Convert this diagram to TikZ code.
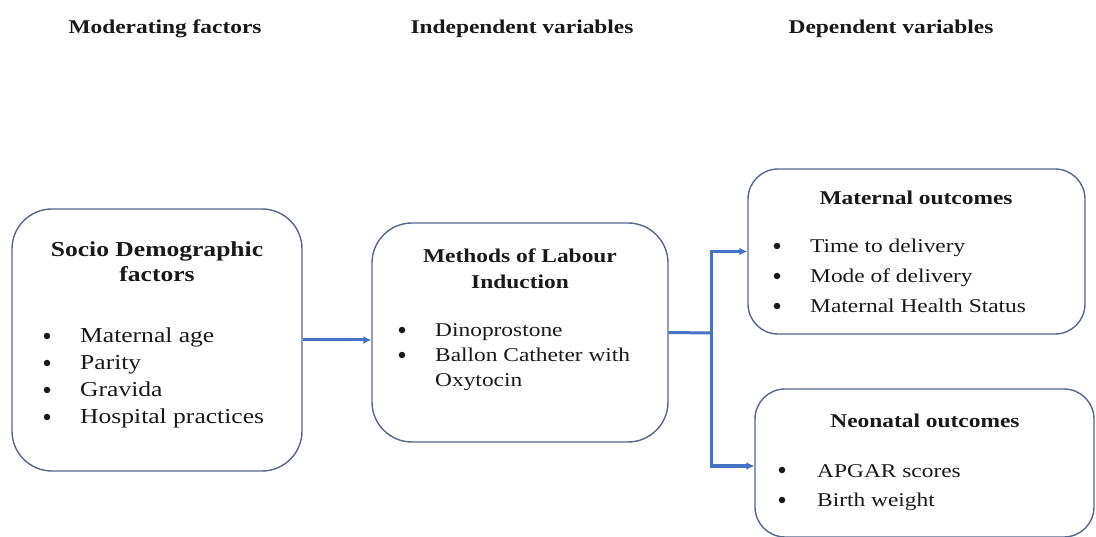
\documentclass[tikz,border=0pt]{standalone}
\usepackage{fontspec}
\setmainfont{Liberation Serif}[FakeStretch=1.2]
\usetikzlibrary{arrows.meta}
\definecolor{boxline}{RGB}{84,104,140}
\definecolor{arrowblue}{RGB}{68,114,196}
\definecolor{ink}{RGB}{25,25,25}
\tikzset{
  box/.style={draw=boxline, line width=1.4pt, rounded corners=#1, fill=white, inner sep=0pt, rectangle},
  hdr/.style={anchor=base, inner sep=0pt, text=ink, font=\fontsize{19.5}{23}\selectfont\bfseries},
  ttlA/.style={anchor=base, inner sep=0pt, text=ink, font=\fontsize{21.3}{25}\selectfont\bfseries},
  itmA/.style={anchor=base west, inner sep=0pt, text=ink, font=\fontsize{21.3}{25}\selectfont},
  ttlB/.style={anchor=base, inner sep=0pt, text=ink, font=\fontsize{19.5}{23}\selectfont\bfseries},
  itmB/.style={anchor=base west, inner sep=0pt, text=ink, font=\fontsize{19.5}{23}\selectfont},
  bul/.style={circle, fill=ink, inner sep=0pt, minimum size=6.5pt, yshift=7pt},
  conn/.style={draw=arrowblue, line width=3pt},
  tip/.style={-{Latex[length=8pt,width=8pt]}}
}
\begin{document}
\begin{tikzpicture}[x=1pt,y=-1pt]
\useasboundingbox (0,0) rectangle (1096,537);
% headers
\node[hdr] (h1) at (165,34) {Moderating factors};
\node[hdr] (h2) at (522,34) {Independent variables};
\node[hdr] (h3) at (891,34) {Dependent variables};
% boxes
\node[box=40pt, minimum width=290pt, minimum height=262pt] (socio) at (157,340) {};
\node[box=40pt, minimum width=296pt, minimum height=219pt] (methods) at (520,332.5) {};
\node[box=30pt, minimum width=337pt, minimum height=165pt] (maternal) at (916.5,251.5) {};
\node[box=30pt, minimum width=339pt, minimum height=148pt] (neonatal) at (924.5,463) {};
% socio text
\node[ttlA] (socioT1) at (157,257) {Socio Demographic};
\node[ttlA] (socioT2) at (157,282) {factors};
\foreach \t [count=\i] in {Maternal age, Parity, Gravida, Hospital practices}{
  \node[bul] (socioB\i) at (47,{343+27*(\i-1)}) {};
  \node[itmA] (socioI\i) at (80,{343+27*(\i-1)}) {\t};
}
% methods text
\node[ttlB] (methT1) at (520,263) {Methods of Labour};
\node[ttlB] (methT2) at (520,289) {Induction};
\node[bul] (methB1) at (402,337) {};
\node[itmB] (methI1) at (435,337) {Dinoprostone};
\node[bul] (methB2) at (402,362) {};
\node[itmB] (methI2) at (435,362) {Ballon Catheter with};
\node[itmB] (methI3) at (435,387) {Oxytocin};
% maternal text
\node[ttlB] (matT) at (916,205) {Maternal outcomes};
\foreach \t [count=\i] in {Time to delivery, Mode of delivery, Maternal Health Status}{
  \node[bul] (matB\i) at (777,{253+30*(\i-1)}) {};
  \node[itmB] (matI\i) at (810,{253+30*(\i-1)}) {\t};
}
% neonatal text
\node[ttlB] (neoT) at (925,428) {Neonatal outcomes};
\foreach \t [count=\i] in {APGAR scores, Birth weight}{
  \node[bul] (neoB\i) at (782,{477+30*(\i-1)}) {};
  \node[itmB] (neoI\i) at (817,{477+30*(\i-1)}) {\t};
}
% connectors
\coordinate (split) at (711,333);
\draw[conn, tip] (socio.east) -- (socio.east -| methods.west);
\draw[conn] (methods.east) -- (split);
\draw[conn, tip] (split) |- (maternal.west);
\draw[conn, tip] (split) |- ([yshift=-3pt]neonatal.west);
\end{tikzpicture}
\end{document}
